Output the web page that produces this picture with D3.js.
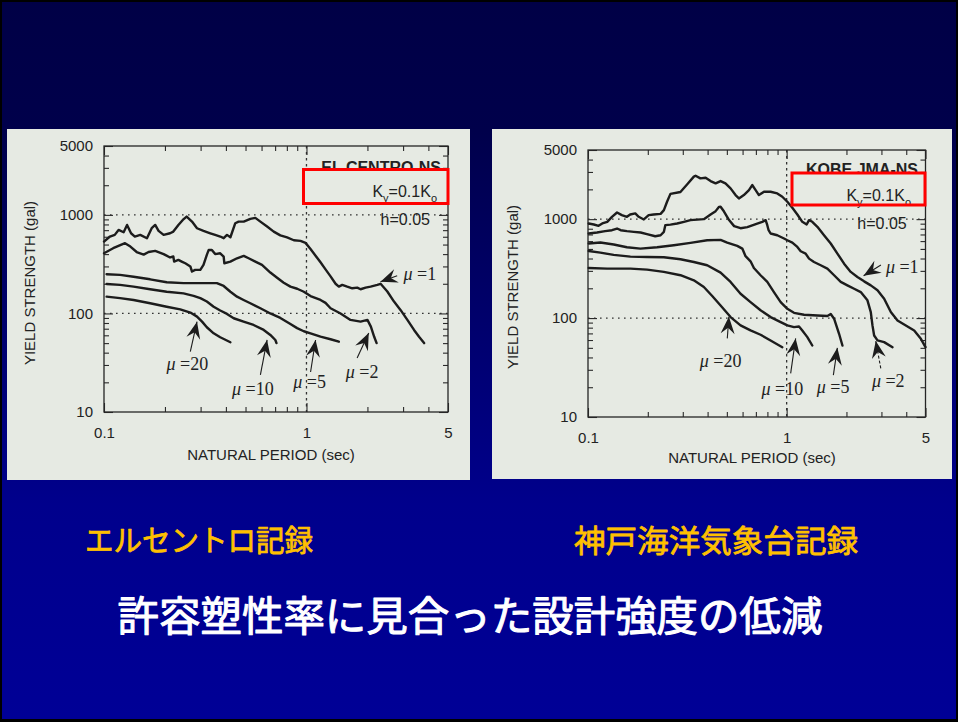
<!DOCTYPE html>
<html>
<head>
<meta charset="utf-8">
<script src="https://cdn.jsdelivr.net/npm/d3@7"></script>
<style>
  html, body { margin: 0; padding: 0; background: #000; }
  svg { display: block; }
</style>
</head>
<body>
<svg id="slide"></svg>
<script>
// ---- axis ticks -------------------------------------------------------
const periodTicks = [0.1, 1, 5];
const periodMinorTicks = [0.2, 0.3, 0.4, 0.5, 0.6, 0.7, 0.8, 0.9, 2, 3, 4];
const strengthTicks = [10, 100, 1000, 5000];
const strengthMinorTicks = [20, 30, 40, 50, 60, 70, 80, 90, 200, 300, 400, 500, 600, 700, 800, 900, 2000, 3000, 4000];
const gridPeriods = [1];
const gridStrengths = [100, 1000];
const ductilityLevels = ["1", "2", "5", "10", "20"];

// ---- EL CENTRO-NS : [period (sec), yield strength (gal)] ---------------
const elCentroMu1 = [[0.100,536],[0.107,603],[0.113,627],[0.118,704],[0.125,667],[0.130,791],[0.136,651],[0.142,603],[0.151,627],[0.163,580],[0.172,732],[0.179,791],[0.186,688],[0.197,627],[0.212,651],[0.220,677],[0.233,791],[0.245,889],[0.256,962],[0.272,855],[0.288,732],[0.310,688],[0.335,651],[0.354,627],[0.375,603],[0.390,580],[0.405,627],[0.421,593],[0.445,823],[0.462,855],[0.490,855],[0.528,911],[0.559,933],[0.592,855],[0.639,762],[0.689,677],[0.743,620],[0.802,590],[0.866,553],[0.934,545],[0.989,520],[1.047,450],[1.109,385],[1.173,330],[1.242,280],[1.315,238],[1.392,200],[1.445,187],[1.502,195],[1.589,187],[1.683,180],[1.781,183],[1.850,176],[1.959,183],[2.074,187],[2.238,195],[2.323,200],[2.508,167],[2.706,132],[2.919,108],[3.150,86],[3.398,68],[3.597,58],[3.810,50]];
const elCentroMu2 = [[0.100,408],[0.111,459],[0.127,516],[0.135,477],[0.145,420],[0.157,395],[0.166,420],[0.179,431],[0.197,400],[0.212,370],[0.220,378],[0.222,336],[0.233,349],[0.242,336],[0.252,323],[0.267,300],[0.272,266],[0.282,277],[0.299,277],[0.310,311],[0.322,393],[0.329,441],[0.341,441],[0.354,400],[0.375,408],[0.390,378],[0.393,323],[0.421,336],[0.454,363],[0.490,384],[0.518,363],[0.559,336],[0.603,311],[0.663,260],[0.716,230],[0.772,205],[0.833,187],[0.900,178],[0.970,166],[1.047,150],[1.173,137],[1.242,128],[1.315,113],[1.473,100],[1.650,86],[1.850,82.6],[2.000,86],[2.080,73.5],[2.160,58],[2.220,50]];
const elCentroMu5 = [[0.103,250],[0.120,246],[0.140,236],[0.169,222],[0.204,207],[0.247,203],[0.299,203],[0.361,203],[0.390,190],[0.421,166],[0.454,148],[0.489,137],[0.528,127],[0.592,113],[0.663,100],[0.743,90],[0.833,78],[0.899,71],[0.970,66],[1.047,62.9],[1.173,58.1],[1.315,54.7],[1.445,51.7]];
const elCentroMu10 = [[0.103,199],[0.120,195],[0.140,187],[0.169,176],[0.204,166],[0.247,160],[0.277,151],[0.299,143],[0.322,132],[0.348,117],[0.375,107],[0.405,98.9],[0.437,89.4],[0.489,82.6],[0.548,76.4],[0.615,68.0],[0.663,60.5],[0.702,53.8],[0.711,50]];
const elCentroMu20 = [[0.103,148],[0.120,143],[0.140,137],[0.169,127],[0.204,117],[0.238,110],[0.267,102],[0.288,92.8],[0.305,82.6],[0.322,72.4],[0.348,62.9],[0.375,57.3],[0.421,51.0]];
// arrow tips for mu = 1, 2, 5, 10, 20 : [period, strength]
const elCentroArrowTips = [[2.32,210],[2.03,63.4],[1.109,53.8],[0.639,53.8],[0.288,82.6]];

// ---- KOBE JMA-NS : [period (sec), yield strength (gal)] ----------------
const kobeMu1 = [[0.1008,904],[0.107,883],[0.113,856],[0.118,904],[0.125,940],[0.132,1056],[0.140,1168],[0.148,1098],[0.157,1056],[0.163,1115],[0.173,1142],[0.180,1056],[0.191,993],[0.202,1098],[0.214,1115],[0.232,1130],[0.241,1234],[0.250,1500],[0.260,1800],[0.292,1880],[0.316,2250],[0.341,2690],[0.348,2749],[0.368,2583],[0.391,2624],[0.414,2427],[0.439,2298],[0.465,2427],[0.492,2298],[0.522,2046],[0.553,1751],[0.575,1620],[0.609,1751],[0.646,1967],[0.671,2212],[0.698,1967],[0.725,1751],[0.769,1892],[0.830,1892],[0.897,1820],[0.951,1684],[1.008,1499],[1.068,1302],[1.132,1115],[1.199,940],[1.261,883],[1.296,977],[1.346,940],[1.428,836],[1.542,688],[1.667,567],[1.801,449],[1.946,355],[2.102,293],[2.271,260],[2.454,235],[2.652,214],[2.866,191],[3.096,157],[3.345,115],[3.614,94.7],[3.981,84.3],[4.385,75.0],[4.739,61.7],[5.0,50.8]];
const kobeMu2 = [[0.1008,716],[0.111,733],[0.122,756],[0.132,773],[0.140,804],[0.146,773],[0.157,756],[0.170,744],[0.184,733],[0.198,705],[0.218,672],[0.232,688],[0.241,744],[0.245,869],[0.260,880],[0.281,904],[0.304,940],[0.328,977],[0.355,990],[0.383,1000],[0.414,1115],[0.439,1205],[0.456,1330],[0.465,1334],[0.483,1200],[0.513,980],[0.544,850],[0.586,810],[0.634,830],[0.711,900],[0.754,940],[0.784,977],[0.799,869],[0.810,780],[0.830,716],[0.897,688],[0.970,637],[1.008,612],[1.068,580],[1.132,524],[1.177,474],[1.246,449],[1.296,399],[1.373,369],[1.484,342],[1.603,316],[1.733,271],[1.872,232],[2.022,214],[2.186,198],[2.361,183],[2.551,151],[2.652,115],[2.704,84.3],[2.757,66.7],[2.866,59.4],[3.096,57.1],[3.411,50.8]];
const kobeMu5 = [[0.1008,567],[0.1154,580],[0.1347,554],[0.157,520],[0.1836,504],[0.2228,520],[0.2704,545],[0.328,575],[0.398,612],[0.465,617],[0.502,580],[0.564,537],[0.598,504],[0.621,422],[0.658,375],[0.684,321],[0.739,271],[0.799,232],[0.863,183],[0.933,145],[1.008,124],[1.089,113],[1.223,108],[1.428,106],[1.603,104.8],[1.667,109.8],[1.733,98.5],[1.836,69.4],[1.909,52.8]];
const kobeMu10 = [[0.1008,477],[0.1154,459],[0.1347,435],[0.1635,418],[0.1984,415],[0.2408,412],[0.2922,393],[0.341,369],[0.398,342],[0.465,288],[0.522,232],[0.586,176],[0.658,145],[0.739,120],[0.830,102.4],[0.933,91.1],[1.008,84.3],[1.089,81.0],[1.154,82.3],[1.199,75.0],[1.271,64.2],[1.346,52.8]];
const kobeMu20 = [[0.1008,321],[0.1247,316],[0.1635,316],[0.1984,309],[0.2408,293],[0.2922,271],[0.341,241],[0.383,206],[0.422,167],[0.465,134],[0.522,102.4],[0.586,84.3],[0.658,75.0],[0.739,67.8],[0.830,59.4],[0.951,50.8]];
const kobeArrowTips = [[2.44,268],[2.81,58.5],[1.80,50.0],[1.11,62.3],[0.512,103]];

// ---- captions ---------------------------------------------------------
const captionLeft = "エルセントロ記録";
const captionRight = "神戸海洋気象台記録";
const slideTitle = "許容塑性率に見合った設計強度の低減";

// ---- slide ------------------------------------------------------------
const W = 958, H = 722;
const svg = d3.select("#slide").attr("width", W).attr("height", H);
const defs = svg.append("defs");
const grad = defs.append("linearGradient").attr("id", "bgGrad")
  .attr("x1", 0).attr("y1", 0).attr("x2", 0).attr("y2", 1);
[[0, "#000046"], [0.18, "#00004b"], [0.7, "#00008c"], [1, "#000096"]]
  .forEach(([o, c]) => grad.append("stop").attr("offset", o).attr("stop-color", c));

svg.append("rect").attr("width", W).attr("height", H).attr("fill", "#000");
svg.append("rect").attr("x", 2).attr("y", 2).attr("width", W - 4).attr("height", H - 5)
  .attr("fill", "url(#bgGrad)");

const SANS = "'Liberation Sans', Arial, Helvetica, sans-serif";
const SERIF = "'Liberation Serif', 'Times New Roman', serif";
const INK = "#1c1c1c";
const PAPER = "#e6eae3";

function drawPanel(p) {
  const g = svg.append("g");
  g.append("rect").attr("x", p.frame[0]).attr("y", p.frame[1])
    .attr("width", p.frame[2]).attr("height", p.frame[3]).attr("fill", PAPER);

  const x = d3.scaleLog().domain([0.1, 5]).range([p.left, p.right]);
  const y = d3.scaleLog().domain([10, 5000]).range([p.bottom, p.top]);

  // dotted reference grid
  g.selectAll(null).data(gridStrengths).join("line")
    .attr("x1", p.left).attr("x2", p.right)
    .attr("y1", d => y(d)).attr("y2", d => y(d))
    .attr("stroke", "#333").attr("stroke-width", 1.3).attr("stroke-dasharray", "1.6,4.4");
  g.selectAll(null).data(gridPeriods).join("line")
    .attr("x1", d => x(d)).attr("x2", d => x(d))
    .attr("y1", p.top).attr("y2", p.bottom)
    .attr("stroke", "#333").attr("stroke-width", 1.3).attr("stroke-dasharray", "2.5,3.5");

  const styleAxis = sel => {
    sel.select(".domain").remove();
    sel.selectAll(".tick line").attr("stroke", "#2a2a2a").attr("stroke-width", 1.1);
    sel.selectAll("text").attr("font-family", SANS).attr("font-size", 15).attr("fill", "#222");
  };
  const none = () => "";

  // inward minor ticks on all four sides
  g.append("g").attr("transform", `translate(0,${p.bottom})`)
    .call(d3.axisBottom(x).tickValues(periodMinorTicks).tickSize(-5).tickFormat(none)).call(styleAxis);
  g.append("g").attr("transform", `translate(0,${p.top})`)
    .call(d3.axisTop(x).tickValues(periodMinorTicks).tickSize(-5).tickFormat(none)).call(styleAxis);
  g.append("g").attr("transform", `translate(${p.left},0)`)
    .call(d3.axisLeft(y).tickValues(strengthMinorTicks).tickSize(-5).tickFormat(none)).call(styleAxis);
  g.append("g").attr("transform", `translate(${p.right},0)`)
    .call(d3.axisRight(y).tickValues(strengthMinorTicks).tickSize(-5).tickFormat(none)).call(styleAxis);

  // major ticks with labels
  g.append("g").attr("transform", `translate(0,${p.bottom})`)
    .call(d3.axisBottom(x).tickValues(periodTicks).tickSize(-9).tickPadding(15).tickFormat(d => String(d)))
    .call(styleAxis);
  g.append("g").attr("transform", `translate(0,${p.top})`)
    .call(d3.axisTop(x).tickValues(periodTicks).tickSize(-9).tickFormat(none)).call(styleAxis);
  g.append("g").attr("transform", `translate(${p.left},0)`)
    .call(d3.axisLeft(y).tickValues(strengthTicks).tickSize(-9).tickPadding(11).tickFormat(d => String(d)))
    .call(styleAxis);
  g.append("g").attr("transform", `translate(${p.right},0)`)
    .call(d3.axisRight(y).tickValues(strengthTicks).tickSize(-9).tickFormat(none)).call(styleAxis);

  // plot frame
  g.append("rect").attr("x", p.left).attr("y", p.top)
    .attr("width", p.right - p.left).attr("height", p.bottom - p.top)
    .attr("fill", "none").attr("stroke", "#252525").attr("stroke-width", 1.3);

  // strength spectra
  const line = d3.line().x(d => x(d[0])).y(d => y(d[1]));
  g.selectAll(null).data(p.series).join("path")
    .attr("d", line).attr("fill", "none").attr("stroke", INK)
    .attr("stroke-width", 2.4).attr("stroke-linejoin", "round").attr("stroke-linecap", "round");

  // ductility arrows and labels
  p.tips.forEach((t, i) => {
    const tx = x(t[0]), ty = y(t[1]);
    const tail = p.tails[i], lab = p.labels[i];
    const sx = tx + tail[0], sy = ty + tail[1];
    g.append("line").attr("x1", sx).attr("y1", sy).attr("x2", tx).attr("y2", ty)
      .attr("stroke", INK).attr("stroke-width", 1.1)
      .attr("stroke-dasharray", tail[2] ? "3,2" : null);
    const ang = Math.atan2(ty - sy, tx - sx) * 180 / Math.PI;
    g.append("path").attr("d", "M0,0 L-17,-7 L-11,0 L-17,7 Z")
      .attr("transform", `translate(${tx},${ty}) rotate(${ang})`).attr("fill", INK);
    const txt = g.append("text").attr("x", tx + lab[0]).attr("y", ty + lab[1])
      .attr("text-anchor", lab[2] || "middle").attr("font-family", SERIF)
      .attr("font-size", 18).attr("fill", "#222");
    txt.append("tspan").attr("font-style", "italic").text("\u03bc");
    txt.append("tspan").text(" =" + ductilityLevels[i]);
  });

  // record name and parameters
  g.append("text").attr("x", p.station[1]).attr("y", p.station[2]).attr("text-anchor", "end")
    .attr("font-family", SANS).attr("font-weight", "bold").attr("font-size", 16)
    .attr("fill", "#222").text(p.station[0]);
  g.append("rect").attr("x", p.box[0]).attr("y", p.box[1]).attr("width", p.box[2]).attr("height", p.box[3])
    .attr("fill", PAPER);
  const ky = g.append("text").attr("x", p.ky[0]).attr("y", p.ky[1]).attr("text-anchor", "end")
    .attr("font-family", SANS).attr("font-size", 16).attr("fill", "#222");
  ky.append("tspan").text("K");
  ky.append("tspan").attr("font-size", 11).attr("dy", 5).text("y");
  ky.append("tspan").attr("dy", -5).text("=0.1K");
  ky.append("tspan").attr("font-size", 11).attr("dy", 5).text("o");
  g.append("text").attr("x", p.h[0]).attr("y", p.h[1]).attr("text-anchor", "end")
    .attr("font-family", SANS).attr("font-size", 16).attr("fill", "#222").text("h=0.05");
  g.append("rect").attr("x", p.box[0]).attr("y", p.box[1]).attr("width", p.box[2]).attr("height", p.box[3])
    .attr("fill", "none").attr("stroke", "#ff0000").attr("stroke-width", 3);

  // axis titles
  g.append("text").attr("transform", `translate(${p.yTitle[0]},${p.yTitle[1]}) rotate(-90)`)
    .attr("text-anchor", "middle").attr("font-family", SANS).attr("font-size", 15)
    .attr("fill", "#222").text("YIELD STRENGTH (gal)");
  g.append("text").attr("x", p.xTitle[0]).attr("y", p.xTitle[1])
    .attr("text-anchor", "middle").attr("font-family", SANS).attr("font-size", 15)
    .attr("fill", "#222").text("NATURAL PERIOD (sec)");
}

drawPanel({
  frame: [7, 129, 463, 351],
  left: 104, right: 448, top: 146, bottom: 412,
  series: [elCentroMu1, elCentroMu2, elCentroMu5, elCentroMu10, elCentroMu20],
  tips: elCentroArrowTips,
  tails: [[16.7, -6], [-11.6, 25], [-5, 32], [-6.7, 35], [-6.7, 30]],
  labels: [[23, -1.7, "start"], [-6.6, 45.3], [-6, 48.3], [-14.2, 55], [-9.7, 48.3]],
  station: ["EL CENTRO-NS", 441, 172.5],
  box: [303.5, 169.5, 144.5, 34],
  ky: [437, 197],
  h: [430, 225],
  yTitle: [35, 283],
  xTitle: [271, 460]
});

drawPanel({
  frame: [492, 129, 460, 350],
  left: 588, right: 925.5, top: 150, bottom: 417,
  series: [kobeMu1, kobeMu2, kobeMu5, kobeMu10, kobeMu20],
  tips: kobeArrowTips,
  tails: [[17.3, -10.7], [5, 27.3, true], [-4, 27.3], [-5, 35], [-1.6, 21.6]],
  labels: [[22.3, -2.4, "start"], [12.5, 45.7], [-4.2, 45.6], [-13.3, 56.7], [-8.3, 50]],
  station: ["KOBE JMA-NS", 918, 175],
  box: [792, 173, 133, 32],
  ky: [911, 201],
  h: [906.7, 229],
  yTitle: [518, 287],
  xTitle: [752, 463]
});

// ---- captions (regular weight, lightly thickened with a matching outline) --
const CJK = "'Noto Sans CJK JP', 'Noto Sans CJK SC', sans-serif";
const caption = (text, x, y, size, len, color) =>
  svg.append("text").attr("x", x).attr("y", y).attr("text-anchor", "middle")
    .attr("dominant-baseline", "central").attr("font-family", CJK).attr("font-size", size)
    .attr("textLength", len).attr("lengthAdjust", "spacingAndGlyphs")
    .attr("fill", color).attr("stroke", color).attr("stroke-width", size / 40)
    .attr("stroke-linejoin", "round").text(text);
caption(captionLeft, 199, 538, 30, 228, "#ffc000");
caption(captionRight, 716, 538, 31, 284, "#ffc000");
caption(slideTitle, 470, 613, 41, 705, "#ffffff");
</script>
</body>
</html>
